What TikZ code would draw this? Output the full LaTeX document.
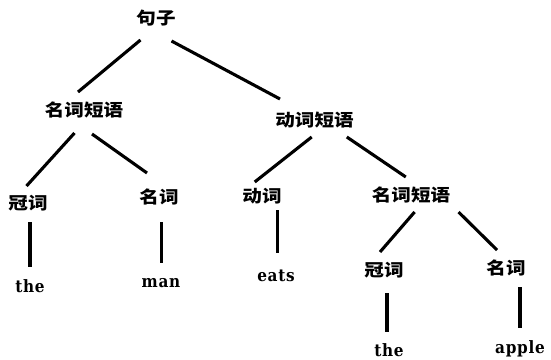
\documentclass[tikz,border=0pt]{standalone}
\usepackage{fontspec}
\setmainfont{Liberation Serif}
\newfontfamily\cjk{Noto Sans CJK SC}[FakeStretch=1.15]
\newfontfamily\latinf{DejaVu Serif}[FakeStretch=0.9,LetterSpace=4]
\usetikzlibrary{calc}
\tikzset{
  zh/.style={font=\cjk\bfseries\fontsize{17}{17}\selectfont, inner sep=0pt},
  en/.style={font=\latinf\bfseries\fontsize{17}{17}\selectfont, inner sep=0pt},
  edge/.style={line width=3.1pt}
}
\begin{document}
\begin{tikzpicture}[x=1pt,y=-1pt]
\fill[white] (0,0) rectangle (551,359);
\useasboundingbox (0,0) rectangle (551,359);
% nodes
\node[zh] (s)    at (156,18)    {句子};
\node[zh] (np1)  at (84,110)    {名词短语};
\node[zh] (vp)   at (314.5,120) {动词短语};
\node[zh] (det1) at (28,203)    {冠词};
\node[zh] (n1)   at (159,197)   {名词};
\node[zh] (v)    at (262,196.5) {动词};
\node[zh] (np2)  at (411,195)   {名词短语};
\node[zh] (det2) at (384,270)   {冠词};
\node[zh] (n2)   at (506,268)   {名词};
\node[en] (the1) at (30,286)    {the};
\node[en] (man)  at (161,283)   {man};
\node[en] (eats) at (276,276)   {eats};
\node[en] (the2) at (389,350)   {the};
\node[en] (apple) at (520,349)  {apple};
% connectors
\draw[edge] ($(s)+(-15.5,22)$) -- ($(np1)+(-6,-18)$);
\draw[edge] ($(s)+(15.5,23)$) -- ($(vp)+(-34.5,-21)$);
\draw[edge] ($(np1)+(-9.5,23)$) -- ($(det1)+(-1.5,-17)$);
\draw[edge] ($(np1)+(8,24)$) -- ($(n1)+(-12,-24)$);
\draw[edge] ($(vp)+(-2.8,17)$) -- ($(v)+(-7.3,-14.5)$);
\draw[edge] ($(vp)+(32.3,17)$) -- ($(np2)+(-5.2,-18)$);
\draw[edge] ($(np2)+(3.6,17)$) -- ($(det2)+(-4,-18)$);
\draw[edge] ($(np2)+(47.5,17)$) -- ($(n2)+(-9,-18)$);
\draw[edge] ($(det1)+(2,19)$) -- ($(the1)+(0,-19)$);
\draw[edge] ($(n1)+(2.5,25)$) -- ($(man)+(0.5,-20)$);
\draw[edge] ($(v)+(15.5,13.5)$) -- ($(eats)+(1.5,-23)$);
\draw[edge] ($(det2)+(3,23)$) -- ($(the2)+(-2,-18)$);
\draw[edge] ($(n2)+(14,19)$) -- ($(apple)+(0,-21)$);
\end{tikzpicture}
\end{document}
